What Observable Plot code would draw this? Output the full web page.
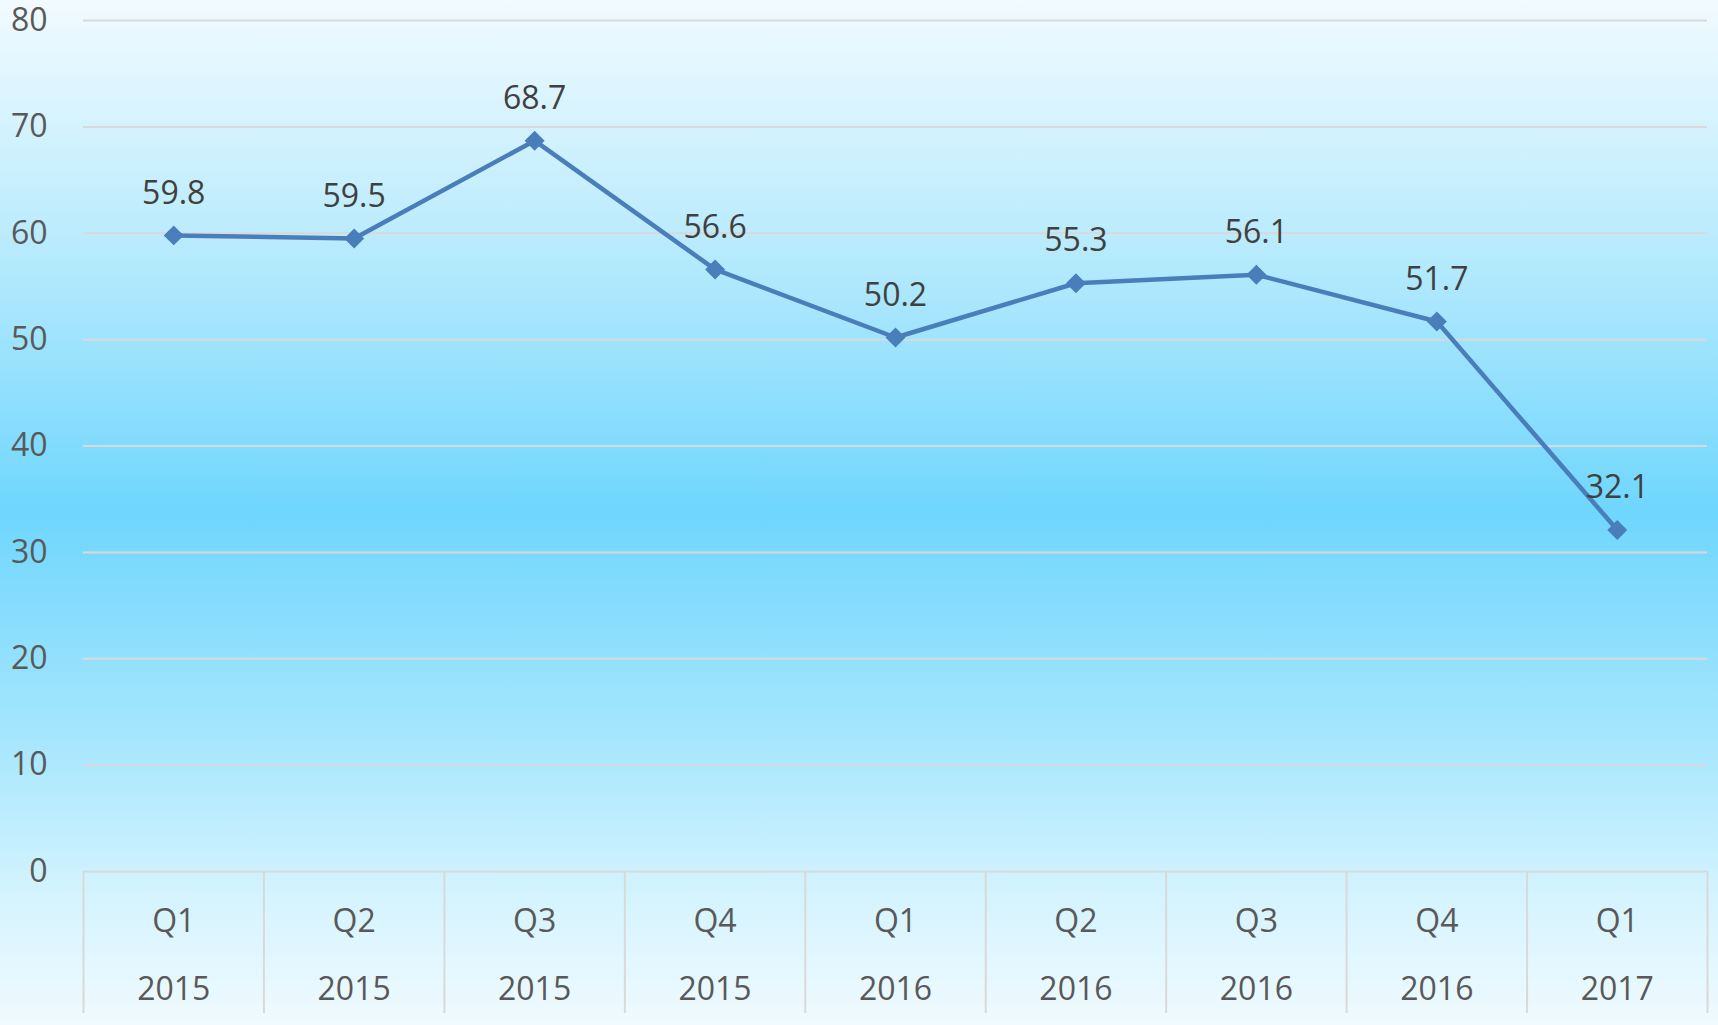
<!DOCTYPE html>
<html>
<head>
<meta charset="utf-8">
<script src="https://cdn.jsdelivr.net/npm/d3@7"></script>
<script src="https://cdn.jsdelivr.net/npm/@observablehq/plot@0.6"></script>
<style>
  html, body { margin: 0; padding: 0; background: #f0faff; }
  #chart svg { display: block; }
</style>
</head>
<body>
<div id="chart"></div>
<script>
const quarters = ["Q1", "Q2", "Q3", "Q4", "Q1", "Q2", "Q3", "Q4", "Q1"];
const years = ["2015", "2015", "2015", "2015", "2016", "2016", "2016", "2016", "2017"];
const values = [59.8, 59.5, 68.7, 56.6, 50.2, 55.3, 56.1, 51.7, 32.1];
const yTicks = [0, 10, 20, 30, 40, 50, 60, 70, 80];

const data = values.map((v, i) => ({pos: i + 0.5, value: v, label: v.toFixed(1)}));
const centers = data.map(d => d.pos);
const boundaries = d3.range(0, quarters.length + 1);

const font = "'Open Sans', 'Noto Sans', sans-serif";

const chart = Plot.plot({
  width: 1718,
  height: 1025,
  marginLeft: 83,
  marginRight: 11,
  marginTop: 20,
  marginBottom: 154,
  style: {
    fontFamily: font,
    background: "linear-gradient(to bottom, #f2fbff 0%, #b6eafd 25%, #6fd6fd 50%, #a6e6fd 72%, #d6f4fe 88%, #f0faff 100%)",
    overflow: "visible"
  },
  x: {type: "linear", domain: [0, quarters.length], axis: null, label: null},
  y: {domain: [0, 80], axis: null, label: null},
  marks: [
    Plot.gridY(yTicks.filter(t => t > 0), {stroke: "#d9d9d9", strokeOpacity: 1, strokeWidth: 2}),
    Plot.ruleY([0], {stroke: "#d9d9d9", strokeWidth: 2}),
    Plot.axisY(yTicks, {
      tickSize: 0, tickPadding: 36, fontSize: 32, color: "#595959", label: null, tickFormat: d => String(d)
    }),
    Plot.axisX(boundaries, {
      tickSize: 142, tickFormat: () => "", stroke: "#d9d9d9", strokeWidth: 2, label: null
    }),
    Plot.axisX(centers, {
      tickSize: 0, tickPadding: 12, fontSize: 32, lineHeight: 2.125, color: "#595959", label: null,
      tickFormat: p => quarters[Math.floor(p)] + "\n" + years[Math.floor(p)]
    }),
    Plot.line(data, {x: "pos", y: "value", stroke: "#4a7ebb", strokeWidth: 4.5}),
    Plot.dot(data, {x: "pos", y: "value", symbol: "diamond2", r: 9, fill: "#4a7ebb", stroke: "none"}),
    Plot.text(data, {x: "pos", y: "value", text: "label", dy: -42, fontSize: 32, fill: "#404040"})
  ]
});

document.getElementById("chart").appendChild(chart);
</script>
</body>
</html>
